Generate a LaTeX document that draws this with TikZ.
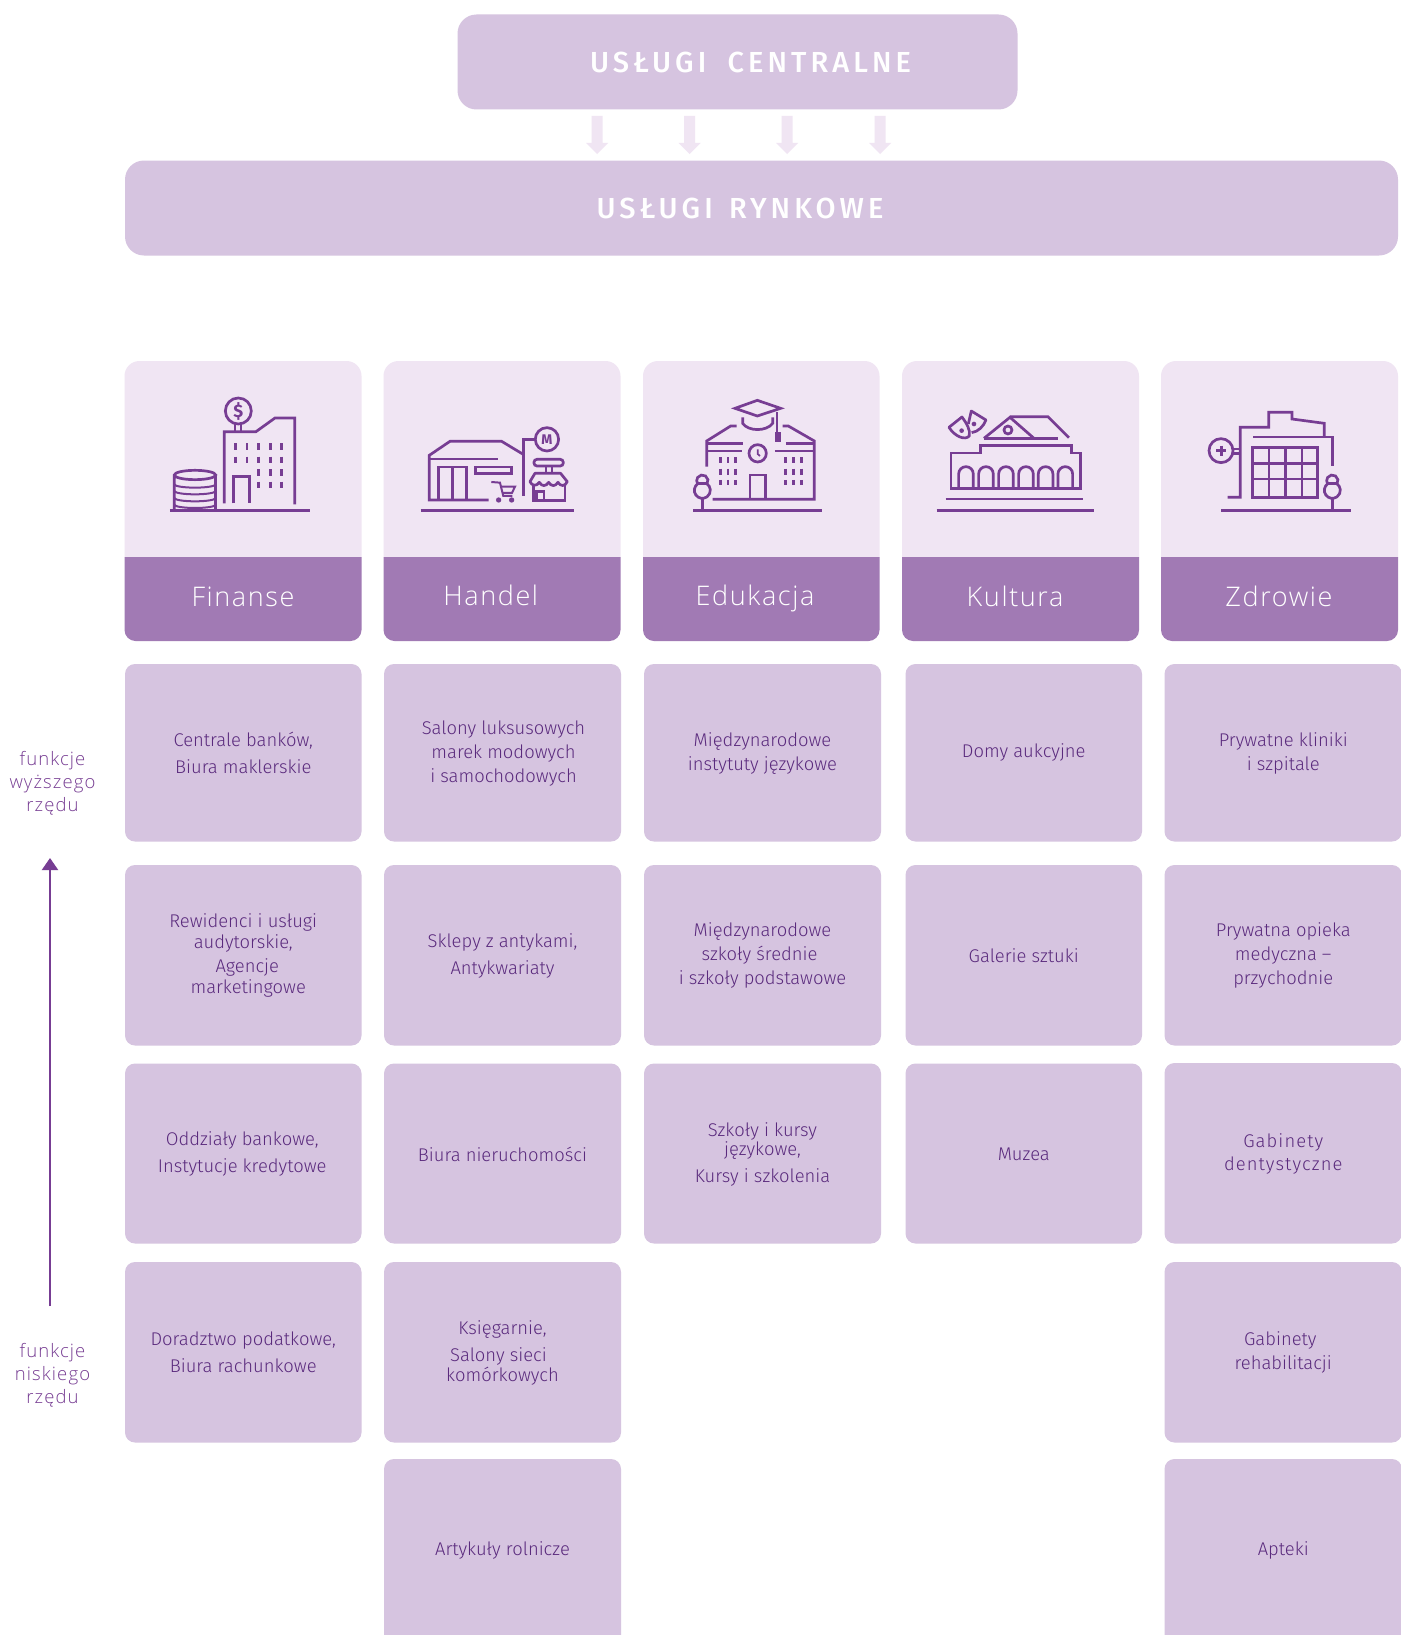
\documentclass[tikz,border=0pt]{standalone}
\usepackage{fontspec}
\usetikzlibrary{arrows.meta}
\setmainfont{Fira Sans}
\newfontfamily\bodyfont{Fira Sans Light}
\newfontfamily\headfont[LetterSpace=14]{Fira Sans Medium}
\newfontfamily\titlefont[LetterSpace=6]{Open Sans Light}
\newfontfamily\sidefont[LetterSpace=6]{Open Sans Light}
\definecolor{boxfill}{HTML}{D6C4E0}
\definecolor{cardtop}{HTML}{F0E5F3}
\definecolor{cardbar}{HTML}{A17AB4}
\definecolor{iconcol}{HTML}{773D93}
\definecolor{bodytext}{HTML}{5A2A7D}
\tikzset{
  cellbox/.style={fill=boxfill,rounded corners=10pt,inner sep=0pt,draw=none},
  celltext/.style={text=bodytext,align=center,inner sep=0pt,font=\bodyfont\fontsize{18.4}{24}\selectfont},
  bigbox/.style={fill=boxfill,rounded corners=19pt,inner sep=0pt,draw=none},
  headtext/.style={text=white,font=\headfont\fontsize{29}{32}\selectfont,inner sep=0pt,anchor=base},
  titletext/.style={text=white,font=\titlefont\fontsize{27}{30}\selectfont,inner sep=0pt,anchor=base},
  sidetext/.style={text=iconcol,align=center,inner sep=0pt,font=\sidefont\fontsize{18.5}{23}\selectfont},
  icon/.style={draw=iconcol,line width=2.7pt,line cap=butt,line join=miter},
  downarrow/.style={fill=cardtop,draw=none},
}
% name x1 y1 x2 y2 dx dy text
\newcommand\cellat[8]{%
  \pgfmathsetmacro\cw{#4-#2}\pgfmathsetmacro\ch{#5-#3}%
  \pgfmathsetmacro\ccx{(#2+#4)/2}\pgfmathsetmacro\ccy{(#3+#5)/2}%
  \node[cellbox,minimum width=\cw pt,minimum height=\ch pt] (#1) at (\ccx,\ccy) {};
  \node[celltext] (#1t) at ([shift={(#6,#7+1)}]#1.center) {#8};
}
% light and dark part of a card: x1 x2
\newcommand\cardat[2]{%
  \fill[cardtop] (#1,557) -- (#1,376) arc[start angle=180,end angle=270,radius=15] -- (#2-15,361) arc[start angle=270,end angle=360,radius=15] -- (#2,557) -- cycle;
  \fill[cardbar] (#1,557) -- (#2,557) -- (#2,630) arc[start angle=0,end angle=90,radius=11] -- (#1+11,641) arc[start angle=90,end angle=180,radius=11] -- cycle;
}
% figure-of-eight tree standing on the ground line
\newcommand\tree[2]{%
  \draw[icon] (#1+14.07,#2-79.45) arc[start angle=34.2,end angle=-214.2,radius=17] arc[start angle=234.1,end angle=-54.1,radius=24];
  \draw[icon] (#1-14.07,#2-79.45) -- (#1+14.07,#2-79.45);
  \draw[icon] (#1,#2-36) -- (#1,#2);
}
\newcommand\win[3]{\draw[icon,line width=2.7pt] (#1,#2) -- (#1,#3);}
\begin{document}
\begin{tikzpicture}[x=1pt,y=-1pt]
\useasboundingbox (0,0) rectangle (1400,1635);
\fill[white] (0,0) rectangle (1400,1635);

% top boxes
\node[bigbox,minimum width=560pt,minimum height=95pt] (central) at (737.5,62) {};
\node[bigbox,minimum width=1273pt,minimum height=95pt] (market) at (761.5,208) {};
\node[headtext,anchor=center] (centralt) at (750.5,62.5) {USŁUGI\hspace{10pt} CENTRALNE};
\node[headtext,anchor=center] (markett) at (740,208.5) {USŁUGI\hspace{5pt} RYNKOWE};

% arrows between the boxes
\foreach \ax/\an in {597/a,689.5/b,787/c,880/d}{
  \coordinate (arr\an) at (\ax,116);
  \fill[downarrow] (arr\an) ++(-5.5,0) -- ++(11,0) -- ++(0,27) -- ++(5.5,0) -- ++(-11,11) -- ++(-11,-11) -- ++(5.5,0) -- cycle;
}

% cards
\cardat{124.5}{361.5}
\cardat{383.5}{620.5}
\cardat{643}{879.5}
\cardat{902}{1139}
\cardat{1161}{1398}
\node[titletext] (tfin) at (243,606.7) {Finanse};
\node[titletext] (than) at (490.7,605) {Handel};
\node[titletext] (tedu) at (755,605) {Edukacja};
\node[titletext] (tkul) at (1015,606.7) {Kultura};
\node[titletext] (tzdr) at (1279,606.7) {Zdrowie};

% Finanse icon
\begin{scope}[shift={(120,350)},x=0.3333pt,y=-0.3333pt]
\draw[icon] (150,481) -- (570,481);
\draw[icon] (163,478) -- (163,375) arc[start angle=180,end angle=540,x radius=62,y radius=14];
\draw[icon] (287,375) -- (287,478);
\foreach \yy in {403,423,444,464}{
  \draw[icon,line width=2pt] (163,\yy) arc[start angle=180,end angle=0,x radius=62,y radius=10];
}
\draw[icon] (313,460) -- (313,245) -- (408,245) -- (465,204) -- (524,204) -- (524,463);
\draw[icon] (341,460) -- (341,379) -- (388,379) -- (388,460);
\draw[icon] (355,183) circle (39);
\draw[icon] (345,222) -- (345,245) (363,222) -- (363,245);
\node[text=iconcol,font=\bfseries\fontsize{18}{18}\selectfont,inner sep=0pt] (dollar) at (355,183) {\$};
\foreach \xx in {346,381,416,451,485}{\win{\xx}{280}{300}\win{\xx}{320}{340}}
\foreach \xx in {416,451,485}{\win{\xx}{358}{378}\win{\xx}{395}{415}}
\end{scope}

% Handel icon
\begin{scope}[shift={(120,350)},x=0.3333pt,y=-0.3333pt]
\draw[icon] (902,481) -- (1362,481);
\draw[icon] (1106,450) -- (928,450) -- (928,316) -- (990,274) -- (1145,274) -- (1208,312);
\draw[icon] (928,327) -- (1134,327);
\draw[icon] (955,450) -- (955,351) -- (1040,351) -- (1040,450);
\draw[icon] (998,351) -- (998,450);
\draw[icon] (1067,351) rectangle (1174,370);
\draw[icon] (1210,437) -- (1210,268) -- (1247,268);
\draw[icon] (1281,268) circle (35);
\node[text=iconcol,font=\bfseries\fontsize{14}{14}\selectfont,inner sep=0pt] (mark) at (1281,268) {M};
\draw[icon,line width=2pt] (1114,396) -- (1140,398) -- (1150,438) -- (1177,438);
\draw[icon,line width=2pt] (1142,410) -- (1185,410) -- (1176,429) -- (1148,429);
\fill[iconcol] (1136,450) circle (8) (1175,450) circle (8);
\draw[icon,rounded corners=3pt] (1242,328) rectangle (1330,348);
\draw[icon] (1278,348) -- (1278,368) (1296,348) -- (1296,368);
\draw[icon,line join=round] (1245,370) -- (1322,370) -- (1342,395) .. controls (1335,410) and (1322,410) .. (1314,397) .. controls (1306,410) and (1294,410) .. (1286,397) .. controls (1278,410) and (1266,410) .. (1258,397) .. controls (1250,410) and (1236,408) .. (1230,395) -- cycle;
\draw[icon] (1240,405) -- (1240,451) -- (1335,451) -- (1335,405);
\draw[icon] (1250,451) -- (1250,425) -- (1272,425) -- (1272,451);
\end{scope}

% Edukacja icon
\begin{scope}[shift={(640,350)},x=0.3333pt,y=-0.3333pt]
\draw[icon] (160,481) -- (547,481);
\tree{187}{481}
\draw[icon] (285,175) -- (352,151) -- (422,175) -- (352,198) -- cycle;
\draw[icon] (308,202) -- (308,220) .. controls (325,245) and (380,245) .. (398,220) -- (398,202);
\draw[icon] (411,187) -- (411,245);
\fill[iconcol] (405,245) rectangle (423,275);
\draw[icon] (290,228) -- (272,228) -- (200,273) -- (200,350);
\draw[icon] (200,281) -- (310,281) (200,303) -- (305,303);
\draw[icon] (428,228) -- (445,228) -- (523,273) -- (523,448) -- (218,448);
\draw[icon] (438,281) -- (523,281) (405,303) -- (523,303);
\draw[icon] (353,310) circle (26);
\draw[icon,line width=1.7pt] (353,298) -- (353,312) -- (360,318);
\draw[icon] (330,448) -- (330,375) -- (377,375) -- (377,448);
\foreach \xx in {241,264,287,437,460,484}{\win{\xx}{322}{340}\win{\xx}{356}{374}\win{\xx}{390}{406}}
\end{scope}

% Kultura icon
\begin{scope}[shift={(640,350)},x=0.3333pt,y=-0.3333pt]
\draw[icon] (890,481) -- (1362,481);
\draw[icon] (917,447) -- (1329,447);
\draw[icon] (933,415) -- (933,309) -- (1021,309) -- (1021,287) -- (1294,287) -- (1294,309) -- (1322,309) -- (1322,415) -- cycle;
\foreach \xx in {978,1038,1098,1158,1217,1276}{
  \draw[icon] (\xx-22,415) -- (\xx-22,372) arc[start angle=180,end angle=360,radius=22] -- (\xx+22,415);
}
\draw[icon] (1032,265) -- (1110,202) -- (1182,265);
\draw[icon] (1032,265) -- (1255,265);
\draw[icon] (1110,200) -- (1224,200) -- (1287,263);
\draw[icon] (1104,240) circle (12);
\draw[icon,line join=round] (927,232) -- (966,201) .. controls (980,220) and (992,240) .. (988,258) .. controls (975,272) and (945,260) .. cycle;
\draw[icon,line join=round] (985,222) -- (994,183) -- (1038,210) .. controls (1030,230) and (1015,245) .. (995,248);
\fill[iconcol] (965,242) circle (7) (1002,222) circle (7);
\end{scope}

% Zdrowie icon
\begin{scope}[shift={(1130,350)},x=0.3333pt,y=-0.3333pt]
\draw[icon] (273,481) -- (663,481);
\draw[icon] (293,442) -- (331,442) -- (331,232) -- (416,232) -- (416,187) -- (486,187) -- (486,207) -- (583,220) -- (583,260);
\draw[icon] (369,261) -- (608,261) -- (608,347);
\draw[icon] (368,293) rectangle (563,443);
\draw[icon] (417,293) -- (417,443) (466,293) -- (466,443) (516,293) -- (516,443);
\draw[icon] (368,341) -- (563,341) (368,387) -- (563,387);
\draw[icon] (273,302) circle (36);
\draw[icon] (310,297) -- (331,297) (310,310) -- (331,310);
\draw[icon,line width=3pt] (258,302) -- (288,302) (273,287) -- (273,317);
\tree{607}{481}
\end{scope}

% cells: column 1
\cellat{a1}{125}{664}{361.5}{841.5}{0}{-1}{Centrale banków,\\[3pt]Biura maklerskie}
\cellat{a2}{125}{865}{361.5}{1045.5}{0}{-1}{Rewidenci i usługi\\[-3pt]audytorskie,\\\hspace*{8pt}Agencje\\[-3pt]\hspace*{10pt}marketingowe}
\cellat{a3}{125}{1063.5}{361.5}{1243.5}{-1}{-1}{Oddziały bankowe,\\[3pt]Instytucje kredytowe}
\cellat{a4}{125}{1262}{361.5}{1442.5}{0}{-1}{Doradztwo podatkowe,\\[3pt]Biura rachunkowe}
% column 2
\cellat{b1}{384}{664}{621}{841.5}{1}{0}{Salony luksusowych\\marek modowych\\i samochodowych}
\cellat{b2}{384}{865}{621}{1045.5}{0}{0}{Sklepy z antykami,\\[3pt]Antykwariaty}
\cellat{b3}{384}{1063.5}{621}{1243.5}{0}{0}{Biura nieruchomości}
\cellat{b4}{384}{1262}{621}{1442.5}{0}{0}{Księgarnie,\\[3pt]\hspace*{-8pt}Salony sieci\\[-4pt]komórkowych}
\cellat{b5}{384}{1459}{621}{1660}{0}{-10}{Artykuły rolnicze}
% column 3
\cellat{c1}{644}{664}{881}{841.5}{0}{0}{Międzynarodowe\\instytuty językowe}
\cellat{c2}{644}{865}{881}{1045.5}{0}{-1}{Międzynarodowe\\\hspace*{-6pt}szkoły średnie\\i szkoły podstawowe}
\cellat{c3}{644}{1063.5}{881}{1243.5}{0}{0}{Szkoły i kursy\\[-5pt]językowe,\\[3pt]Kursy i szkolenia}
% column 4
\cellat{d1}{905.5}{664}{1142}{841.5}{0}{-1}{Domy aukcyjne}
\cellat{d2}{905.5}{865}{1142}{1045.5}{0}{-1}{Galerie sztuki}
\cellat{d3}{905.5}{1063.5}{1142}{1243.5}{0}{0}{Muzea}
% column 5
\cellat{e1}{1164.5}{664}{1402}{841.5}{0}{0}{Prywatne kliniki\\i szpitale}
\cellat{e2}{1164.5}{865}{1402}{1045.5}{0}{-1}{Prywatna opieka\\medyczna –\\przychodnie}
\cellat{e3}{1164.5}{1063}{1402}{1243.5}{0}{0}{\addfontfeature{LetterSpace=6}Gabinety\\[-1pt]\addfontfeature{LetterSpace=6}dentystyczne}
\cellat{e4}{1164.5}{1262}{1402}{1442.5}{0}{-1}{\hspace*{-6pt}Gabinety\\rehabilitacji}
\cellat{e5}{1164.5}{1459}{1402}{1660}{0}{-10}{Apteki}

% side axis
\node[sidetext] (high) at (52.5,783) {funkcje\\wyższego\\rzędu};
\node[sidetext] (low) at (52.5,1375) {funkcje\\niskiego\\rzędu};
\coordinate (axisbottom) at (50,1306);
\coordinate (axistop) at (50,858);
\draw[iconcol,line width=2pt,-{Triangle[width=16pt,length=12pt]}] (axisbottom) -- (axistop);
\end{tikzpicture}
\end{document}
